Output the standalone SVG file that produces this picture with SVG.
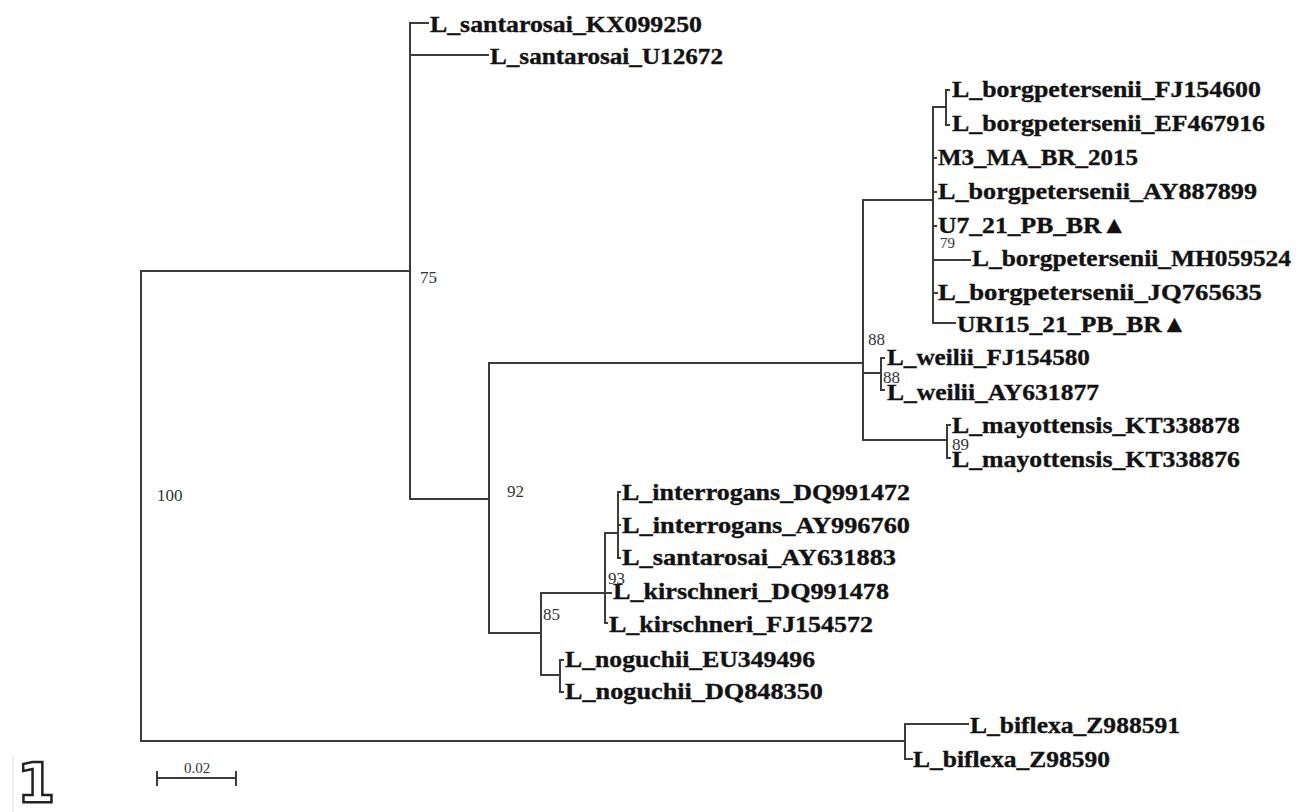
<svg xmlns="http://www.w3.org/2000/svg" width="1296" height="812" viewBox="0 0 1296 812">
<style>
.t{font-family:"Liberation Serif","Times New Roman",serif;font-weight:bold;font-size:23.5px;fill:#121212;stroke:#121212;stroke-width:0.35}
.b{font-family:"Liberation Serif","Times New Roman",serif;font-size:17px;fill:#333}
.s{font-family:"Liberation Serif","Times New Roman",serif;font-size:15px;fill:#333}
.e{stroke:#3c3c3c;stroke-width:2;fill:none;stroke-linecap:square}
</style>
<rect width="1296" height="812" fill="#fff"/>
<g id="connectors" class="e">
<path d="M410,271 H141 V741 H905"/>
<path d="M428,23 H410 V499 H489"/>
<path d="M410,55 H488"/>
<path d="M863,363 H489 V633 H541"/>
<path d="M933,200 H863 V440 H947"/>
<path d="M863,373 H881"/>
<path d="M946,107 H933 V323 H955"/>
<path d="M949,90 H946 V125 H949"/>
<path d="M933,158 H936 M933,192 H936 M933,226 H936 M933,260 H970 M933,293 H937"/>
<path d="M884,358 H881 V390 H884"/>
<path d="M950,425 H947 V458 H950"/>
<path d="M605,593 H541 V675 H560"/>
<path d="M618,533 H605 V623 H607"/>
<path d="M605,593 H611"/>
<path d="M620,492 H618 V558 H620 M618,525 H620"/>
<path d="M563,660 H560 V692 H563"/>
<path d="M968,724 H905 V759 H912"/>
</g>
<g id="n-santarosai-KX099250" transform="translate(430,32) scale(1.15,1)"><text class="t" textLength="236.5" lengthAdjust="spacingAndGlyphs">L_santarosai_KX099250</text></g>
<g id="n-santarosai-U12672" transform="translate(490,64) scale(1.15,1)"><text class="t" textLength="202.6" lengthAdjust="spacingAndGlyphs">L_santarosai_U12672</text></g>
<g id="n-borg-FJ154600" transform="translate(952,97) scale(1.15,1)"><text class="t" textLength="268.7" lengthAdjust="spacingAndGlyphs">L_borgpetersenii_FJ154600</text></g>
<g id="n-borg-EF467916" transform="translate(952,131) scale(1.15,1)"><text class="t" textLength="272.2" lengthAdjust="spacingAndGlyphs">L_borgpetersenii_EF467916</text></g>
<g id="n-M3" transform="translate(938,165) scale(1.15,1)"><text class="t" textLength="173.9" lengthAdjust="spacingAndGlyphs">M3_MA_BR_2015</text></g>
<g id="n-borg-AY887899" transform="translate(938,199) scale(1.15,1)"><text class="t" textLength="277.4" lengthAdjust="spacingAndGlyphs">L_borgpetersenii_AY887899</text></g>
<g id="n-U7" transform="translate(938,233) scale(1.15,1)"><text class="t" textLength="164.3" lengthAdjust="spacingAndGlyphs">U7_21_PB_BR▲</text></g>
<g id="n-borg-MH059524" transform="translate(972,266) scale(1.15,1)"><text class="t" textLength="277.4" lengthAdjust="spacingAndGlyphs">L_borgpetersenii_MH059524</text></g>
<g id="n-borg-JQ765635" transform="translate(938,300) scale(1.15,1)"><text class="t" textLength="281.7" lengthAdjust="spacingAndGlyphs">L_borgpetersenii_JQ765635</text></g>
<g id="n-URI15" transform="translate(957,332) scale(1.15,1)"><text class="t" textLength="200" lengthAdjust="spacingAndGlyphs">URI15_21_PB_BR▲</text></g>
<g id="n-weilii-FJ154580" transform="translate(887,365) scale(1.15,1)"><text class="t" textLength="176.5" lengthAdjust="spacingAndGlyphs">L_weilii_FJ154580</text></g>
<g id="n-weilii-AY631877" transform="translate(887,400) scale(1.15,1)"><text class="t" textLength="184.3" lengthAdjust="spacingAndGlyphs">L_weilii_AY631877</text></g>
<g id="n-mayott-KT338878" transform="translate(952,433) scale(1.15,1)"><text class="t" textLength="250.4" lengthAdjust="spacingAndGlyphs">L_mayottensis_KT338878</text></g>
<g id="n-mayott-KT338876" transform="translate(952,467) scale(1.15,1)"><text class="t" textLength="250.4" lengthAdjust="spacingAndGlyphs">L_mayottensis_KT338876</text></g>
<g id="n-interrogans-DQ991472" transform="translate(622,500) scale(1.15,1)"><text class="t" textLength="250.4" lengthAdjust="spacingAndGlyphs">L_interrogans_DQ991472</text></g>
<g id="n-interrogans-AY996760" transform="translate(622,533) scale(1.15,1)"><text class="t" textLength="250.4" lengthAdjust="spacingAndGlyphs">L_interrogans_AY996760</text></g>
<g id="n-santarosai-AY631883" transform="translate(622,565) scale(1.15,1)"><text class="t" textLength="238.3" lengthAdjust="spacingAndGlyphs">L_santarosai_AY631883</text></g>
<g id="n-kirschneri-DQ991478" transform="translate(613,599) scale(1.15,1)"><text class="t" textLength="240" lengthAdjust="spacingAndGlyphs">L_kirschneri_DQ991478</text></g>
<g id="n-kirschneri-FJ154572" transform="translate(609,632) scale(1.15,1)"><text class="t" textLength="229.6" lengthAdjust="spacingAndGlyphs">L_kirschneri_FJ154572</text></g>
<g id="n-noguchii-EU349496" transform="translate(565,667) scale(1.15,1)"><text class="t" textLength="217.4" lengthAdjust="spacingAndGlyphs">L_noguchii_EU349496</text></g>
<g id="n-noguchii-DQ848350" transform="translate(565,699) scale(1.15,1)"><text class="t" textLength="224.3" lengthAdjust="spacingAndGlyphs">L_noguchii_DQ848350</text></g>
<g id="n-biflexa-Z988591" transform="translate(970,733) scale(1.15,1)"><text class="t" textLength="182.6" lengthAdjust="spacingAndGlyphs">L_biflexa_Z988591</text></g>
<g id="n-biflexa-Z98590" transform="translate(913,767) scale(1.15,1)"><text class="t" textLength="171.3" lengthAdjust="spacingAndGlyphs">L_biflexa_Z98590</text></g>
<g id="bootstrap">
<text class="b" x="157" y="501">100</text>
<text class="b" x="420" y="283">75</text>
<text class="b" x="507" y="497">92</text>
<text class="b" x="543" y="620">85</text>
<text class="b" x="608" y="584">93</text>
<text class="s" x="940" y="248">79</text>
<text class="b" x="868" y="345">88</text>
<text class="b" x="883" y="383">88</text>
<text class="b" x="952" y="450">89</text>
</g>
<g id="scalebar">
<path class="e" d="M157,778 H236 M157,772 V785 M236,772 V785"/>
<text class="s" x="197" y="773" text-anchor="middle">0.02</text>
</g>
<line x1="13" y1="755" x2="13" y2="812" stroke="#e2e2e2" stroke-width="1"/>
<text x="17" y="802" font-family="DejaVu Sans" font-weight="bold" font-size="55" fill="#fff" stroke="#222" stroke-width="2.5">1</text>
</svg>
